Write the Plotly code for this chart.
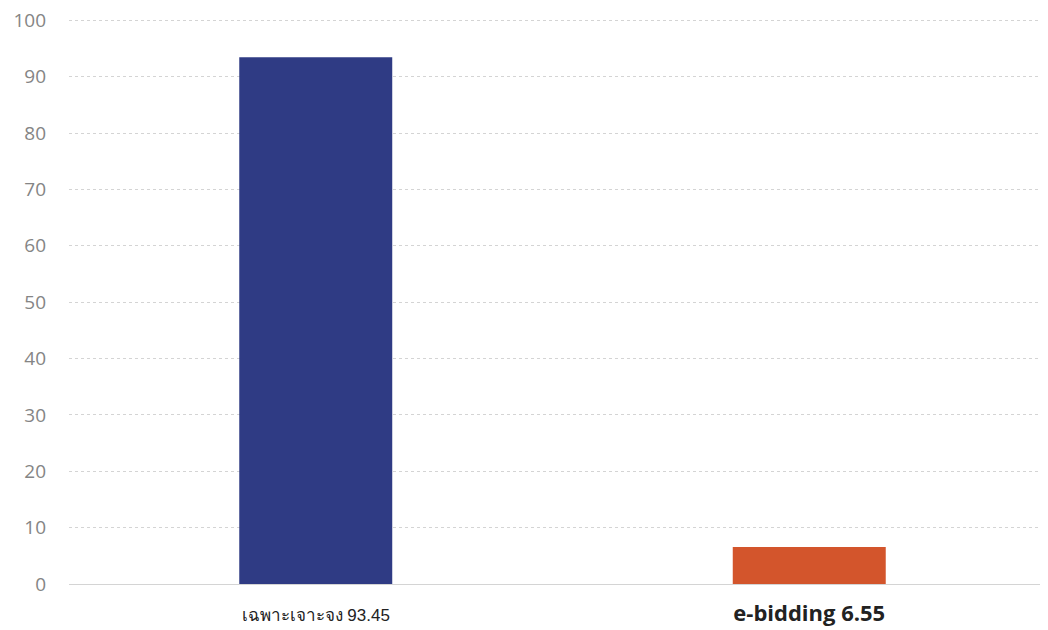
import plotly.graph_objects as go

categories = ["เฉพาะเจาะจง", "e-bidding"]
values = [93.45, 6.55]
colors = ["#2f3b84", "#d3552c"]
tick_labels = [
    "<span style='font-size:17px;font-family:Arial'>เฉพาะเจาะจง 93.45</span>",
    "<span style='font-size:22px;font-family:Open Sans'><b>e-bidding 6.55</b></span>",
]

fig = go.Figure(
    go.Bar(
        x=categories,
        y=values,
        marker=dict(color=colors, line=dict(width=0)),
        width=0.31,
    )
)

fig.update_layout(
    width=1048,
    height=630,
    margin=dict(l=61, r=0, t=10, b=54),
    paper_bgcolor="white",
    plot_bgcolor="white",
    showlegend=False,
    font=dict(family="'Open Sans', sans-serif", color="#222"),
)
fig.update_xaxes(
    tickmode="array",
    tickvals=categories,
    ticktext=tick_labels,
    range=[-0.5, 1.5],
    showgrid=False,
    showline=False,
    ticks="",
    tickfont=dict(color="#222"),
    ticklabelstandoff=24,
    ticklabeloverflow="allow",
)
fig.update_yaxes(
    range=[0, 100.4],
    tickvals=[0, 10, 20, 30, 40, 50, 60, 70, 80, 90, 100],
    showgrid=True,
    gridcolor="#d4d4d4",
    griddash="dot",
    gridwidth=1,
    zeroline=True,
    zerolinecolor="#d4d4d4",
    zerolinewidth=1,
    tickfont=dict(size=19, color="#858585", family="'Open Sans', sans-serif"),
    ticks="",
    ticklabelstandoff=22,
    ticklabeloverflow="allow",
)

fig.write_html("out.html")
